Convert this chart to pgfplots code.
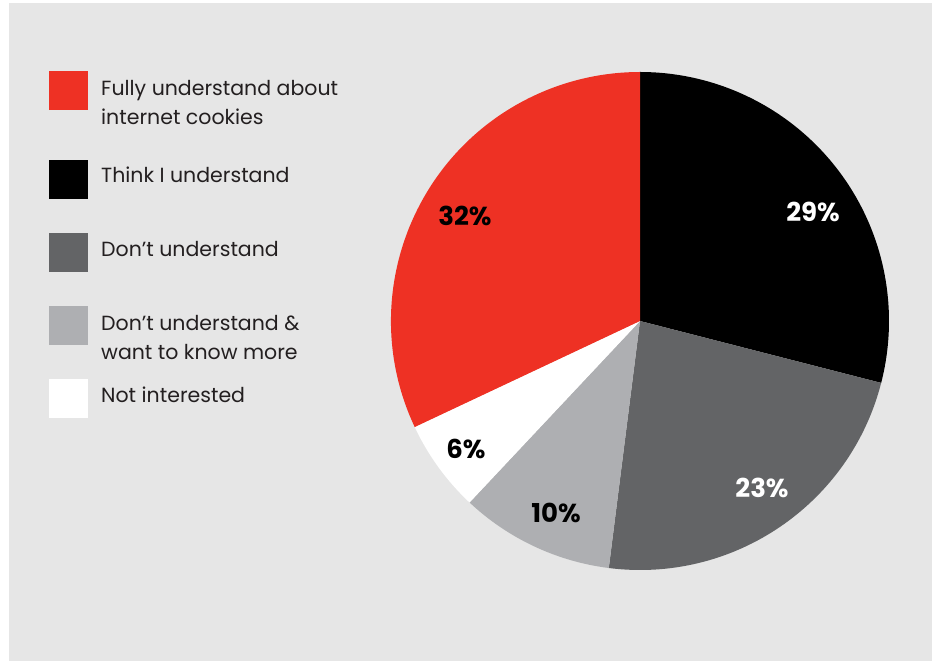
\documentclass[border=0pt]{standalone}
\usepackage{pgfplots}
\pgfplotsset{compat=1.18}
\usepackage{fontspec}
\setmainfont{Poppins}
\definecolor{bg}{HTML}{E6E6E6}
\definecolor{redc}{HTML}{EE3124}
\definecolor{dgray}{HTML}{636466}
\definecolor{lgray}{HTML}{AEAFB2}
\definecolor{txt}{HTML}{231F20}
% slice values (percent), clockwise from 12 o'clock
\def\vA{29}% Think I understand
\def\vB{23}% Don't understand
\def\vC{10}% Don't understand & want to know more
\def\vD{6}%  Not interested
\def\vE{32}% Fully understand
\def\R{249pt}
\begin{document}
\begin{tikzpicture}
\begin{axis}[
  width=935pt, height=661pt, scale only axis,
  xmin=0, xmax=935, ymin=0, ymax=661,
  axis lines=none, clip=false,
]
\fill[white] (axis cs:0,0) rectangle (axis cs:935,661);
\fill[bg] (axis cs:9,0) rectangle (axis cs:932,658);
% pie
\pgfmathsetmacro{\aA}{90}
\pgfmathsetmacro{\aB}{\aA-\vA*3.6}
\pgfmathsetmacro{\aC}{\aB-\vB*3.6}
\pgfmathsetmacro{\aD}{\aC-\vC*3.6}
\pgfmathsetmacro{\aE}{\aD-\vD*3.6}
\pgfmathsetmacro{\aF}{\aE-\vE*3.6}
\fill[black] (axis cs:640,340) -- ++(\aA:\R) arc[start angle=\aA, end angle=\aB, radius=\R] -- cycle;
\fill[dgray] (axis cs:640,340) -- ++(\aB:\R) arc[start angle=\aB, end angle=\aC, radius=\R] -- cycle;
\fill[lgray] (axis cs:640,340) -- ++(\aC:\R) arc[start angle=\aC, end angle=\aD, radius=\R] -- cycle;
\fill[white] (axis cs:640,340) -- ++(\aD:\R) arc[start angle=\aD, end angle=\aE, radius=\R] -- cycle;
\fill[redc] (axis cs:640,340) -- ++(\aE:\R) arc[start angle=\aE, end angle=\aF, radius=\R] -- cycle;
% percentage labels
\tikzset{pl/.style={font=\fontsize{26}{30}\selectfont\bfseries, inner sep=0pt}}
\node[pl, text=white] at (axis cs:813,449) {\vA\%};
\node[pl, text=white] at (axis cs:762,173) {\vB\%};
\node[pl, text=black] at (axis cs:556,148) {\vC\%};
\node[pl, text=black] at (axis cs:466,212) {\vD\%};
\node[pl, text=black] at (axis cs:465,445) {\vE\%};
% legend
\fill[redc]  (axis cs:49,551) rectangle (axis cs:88,590);
\fill[black] (axis cs:49,462) rectangle (axis cs:88,501);
\fill[dgray] (axis cs:49,389) rectangle (axis cs:88,428);
\fill[lgray] (axis cs:49,316) rectangle (axis cs:88,355);
\fill[white] (axis cs:49,243) rectangle (axis cs:88,282);
\tikzset{lt/.style={font=\fontsize{20.5}{24}\selectfont, text=txt, anchor=base west, inner sep=0pt}}
\node[lt] at (axis cs:101,565) {Fully understand about};
\node[lt] at (axis cs:101,536) {internet cookies};
\node[lt] at (axis cs:101,478) {Think I understand};
\node[lt] at (axis cs:101,404) {Don’t understand};
\node[lt] at (axis cs:101,330) {Don’t understand \&};
\node[lt] at (axis cs:101,301) {want to know more};
\node[lt] at (axis cs:101,258) {Not interested};
\end{axis}
\end{tikzpicture}
\end{document}
